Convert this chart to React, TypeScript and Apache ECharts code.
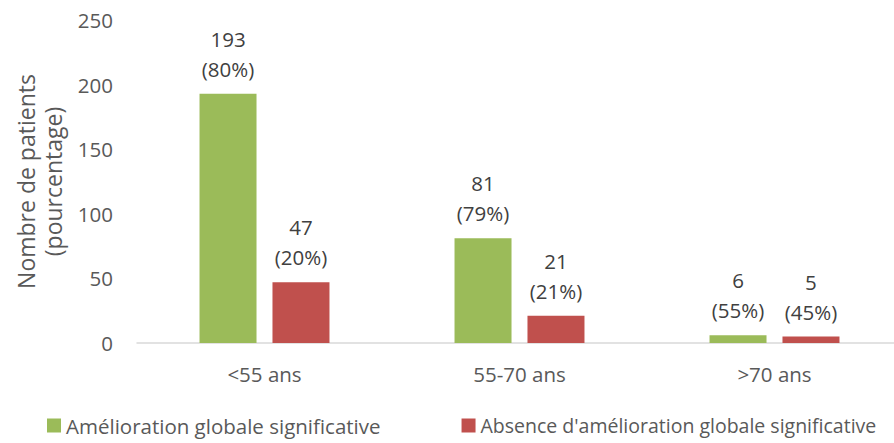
import React, { useEffect, useRef } from "react";
import * as echarts from "echarts";

const categories = ["<55 ans", "55-70 ans", ">70 ans"];
const seriesNames = [
  "Amélioration globale significative",
  "Absence d'amélioration globale significative",
];
const ameliorationValues = [193, 81, 6];
const ameliorationPct = ["80%", "79%", "55%"];
const absenceValues = [47, 21, 5];
const absencePct = ["20%", "21%", "45%"];
const yTicks = { min: 0, max: 250, interval: 50 };

const FONT = "Open Sans";
const TEXT = "#404040";
const AXIS_TEXT = "#595959";
const FS = 20.5;

export default function App() {
  const ref = useRef<HTMLDivElement>(null);
  useEffect(() => {
    document.body.style.margin = "0";
    const chart = echarts.init(ref.current!, undefined, { renderer: "svg" });
    const label = (pcts: string[]) => ({
      show: true,
      position: "top",
      distance: 10,
      color: TEXT,
      fontFamily: FONT,
      fontSize: FS,
      lineHeight: 30,
      formatter: (p: any) => `${p.value}\n(${pcts[p.dataIndex]})`,
    });
    chart.setOption({
      animation: false,
      textStyle: { fontFamily: FONT },
      grid: {
        left: 137,
        width: 765,
        top: 20,
        bottom: 100,
        outerBoundsMode: "none",
        containLabel: false,
      },
      legend: {
        bottom: 7,
        left: 47,
        padding: 0,
        itemWidth: 14,
        itemHeight: 14,
        itemGap: 81,
        icon: "rect",
        textStyle: { color: AXIS_TEXT, fontFamily: FONT, fontSize: FS },
        data: [
          { name: seriesNames[0] },
          { name: seriesNames[1], textStyle: { fontSize: 19.5 } },
        ],
      },
      xAxis: {
        type: "category",
        data: categories,
        axisLine: { lineStyle: { color: "#D9D9D9", width: 1.5 } },
        axisTick: { show: false },
        axisLabel: { color: AXIS_TEXT, fontFamily: FONT, fontSize: FS, margin: 20 },
      },
      yAxis: {
        type: "value",
        min: yTicks.min,
        max: yTicks.max,
        interval: yTicks.interval,
        splitLine: { show: false },
        axisLine: { show: false },
        axisTick: { show: false },
        axisLabel: { color: AXIS_TEXT, fontFamily: FONT, fontSize: FS, margin: 24 },
        name: "Nombre de patients\n(pourcentage)",
        nameLocation: "middle",
        nameGap: 67,
        nameTextStyle: { color: AXIS_TEXT, fontFamily: FONT, fontSize: 23, lineHeight: 27 },
      },
      series: [
        {
          name: seriesNames[0],
          type: "bar",
          data: ameliorationValues,
          barWidth: 57,
          barGap: "28%",
          itemStyle: { color: "#9BBB59" },
          label: label(ameliorationPct),
        },
        {
          name: seriesNames[1],
          type: "bar",
          data: absenceValues,
          barWidth: 57,
          barGap: "28%",
          itemStyle: { color: "#C0504D" },
          label: label(absencePct),
        },
      ],
    });
    return () => chart.dispose();
  }, []);
  return (
    <div style={{ width: 894, height: 443, overflow: "hidden" }}>
      <div ref={ref} style={{ width: 910, height: 443 }} />
    </div>
  );
}
